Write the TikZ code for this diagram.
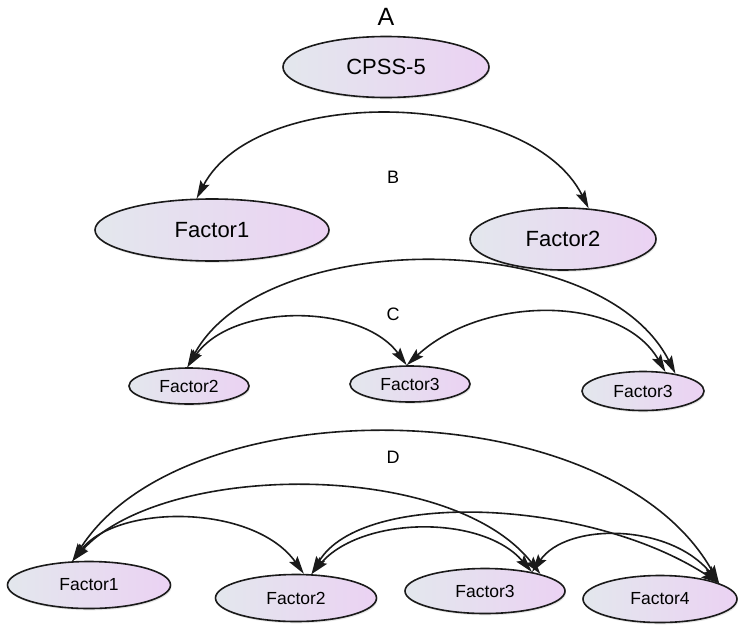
\documentclass[tikz,border=0pt]{standalone}
\usepackage{fontspec}
\setmainfont{Liberation Sans}
\usetikzlibrary{arrows.meta,shapes.geometric,shadows}
\definecolor{gl}{HTML}{E3E7ED}
\definecolor{gr}{HTML}{EBD2F3}
\definecolor{edgec}{HTML}{1A1A1A}
\begin{document}
\begin{tikzpicture}[x=1pt,y=-1pt,
  fac/.style={ellipse, draw=edgec, line width=1.6pt, left color=gl, right color=gr, inner sep=0pt,
    drop shadow={opacity=0.2, shadow xshift=1pt, shadow yshift=-1.8pt}},
  bigfac/.style={fac, font=\fontsize{22}{26}\selectfont},
  smallfac/.style={fac, font=\fontsize{17.5}{21}\selectfont},
  biglab/.style={font=\fontsize{25}{30}\selectfont, inner sep=0pt},
  seclab/.style={font=\fontsize{18}{22}\selectfont, inner sep=0pt},
  tipx/.tip={Stealth[length=18pt,width=10pt,inset=3pt]},
  cor/.style={tipx-tipx, line width=1.6pt, draw=edgec}
]
\useasboundingbox (0,0) rectangle (738,627);

% A
\node[biglab] (la) at (386,17) {A};
\node[bigfac, minimum width=206pt, minimum height=61pt] (cpss) at (386,67) {CPSS-5};

% B
\node[seclab] (lb) at (393,177) {B};
\node[bigfac, minimum width=234pt, minimum height=62pt] (f1b) at (212,230) {Factor1};
\node[bigfac, minimum width=186pt, minimum height=62pt] (f2b) at (563,239) {Factor2};
\draw[cor] (f1b.116) .. controls +(60,-115) and +(-60,-120) .. (f2b.50);

% C
\node[seclab] (lc) at (393,314) {C};
\node[smallfac, minimum width=120pt, minimum height=36pt] (f2c) at (189,386) {Factor2};
\node[smallfac, minimum width=120pt, minimum height=36pt] (f3m) at (410,384) {Factor3};
\node[smallfac, minimum width=122pt, minimum height=39pt] (f3r) at (643,391) {Factor3};
\draw[cor] (f2c.95) .. controls +(75,-140) and +(-75,-148) .. (f3r.28);
\draw[cor] (f2c.95) .. controls +(45,-65) and +(-45,-62) .. (f3m.100);
\draw[cor] (f3m.100) .. controls +(75,-70) and +(-45,-78) .. (f3r.40);

% D
\node[seclab] (ld) at (393,457) {D};
\node[smallfac, minimum width=163pt, minimum height=47pt] (f1d) at (89,585) {Factor1};
\node[smallfac, minimum width=161pt, minimum height=47pt] (f2d) at (296,598) {Factor2};
\node[smallfac, minimum width=160pt, minimum height=45pt] (f3d) at (485,591) {Factor3};
\node[smallfac, minimum width=154pt, minimum height=47pt] (f4d) at (660,599) {Factor4};
\draw[cor] (f1d.125) .. controls +(110,-175) and +(-110,-195) .. (f4d.15);
\draw[cor] (f1d.125) .. controls +(90,-100) and +(-90,-115) .. (f3d.17);
\draw[cor] (f1d.125) .. controls +(45,-58) and +(-50,-70) .. (f2d.72);
\draw[cor] (f2d.57) .. controls +(50,-85) and +(-130,-85) .. (f4d.15);
\draw[cor] (f2d.57) .. controls +(50,-58) and +(-50,-58) .. (f3d.22);
\draw[cor] (f3d.22) .. controls +(35,-50) and +(-50,-60) .. (f4d.15);
\end{tikzpicture}
\end{document}
